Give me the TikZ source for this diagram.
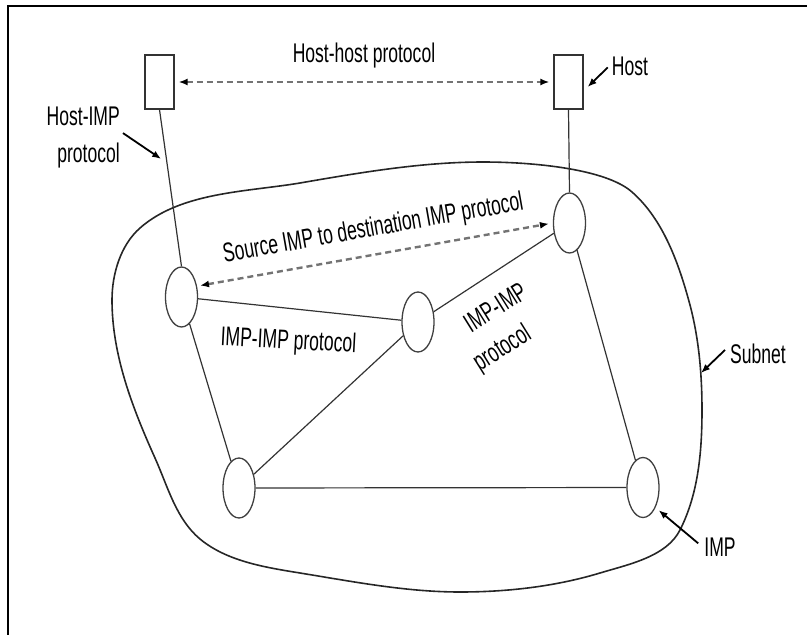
\documentclass[tikz,border=0pt]{standalone}
\usepackage{fontspec}
\usepackage{graphicx}
\setmainfont{Liberation Sans}
\usetikzlibrary{arrows.meta,shapes.geometric,calc}
% narrow lettering: horizontally squeezed Liberation Sans
\newcommand{\condensed}[1]{\scalebox{0.65}[1]{#1}}
\begin{document}
\begin{tikzpicture}[x=1pt,y=-1pt,
  hostbox/.style={draw=black!80, line width=1.2pt, fill=white,
    minimum width=29pt, minimum height=54pt, inner sep=0pt},
  imp/.style={ellipse, draw=black!75, line width=1.3pt, fill=white,
    minimum width=32pt, minimum height=60pt, inner sep=0pt},
  link/.style={draw=black!80, line width=1.2pt},
  proto/.style={draw=black!55, line width=2.4pt, dash pattern=on 6pt off 4pt,
    {Latex[length=9pt,width=7pt,color=black]}-{Latex[length=9pt,width=7pt,color=black]}},
  callout/.style={draw=black, line width=1.8pt, -{Latex[length=9pt,width=7pt]}},
  lbl/.style={font=\fontsize{27}{37}\selectfont, inner sep=0pt, text=black},
  subnet/.style={draw=black!85, line width=1.6pt}
]
\useasboundingbox (0,0) rectangle (807,635);

% frame
\draw[line width=2.8pt] (8,635) -- (8,6) -- (807,6);

% subnet outline
\draw[subnet] (140,228) .. controls (181,192) and (246,192) .. (300,183)
  .. controls (360,172.6) and (422,162) .. (483,162)
  .. controls (534,162) and (606,169) .. (632,192)
  .. controls (663.5,219.7) and (679,264) .. (690,305)
  .. controls (699,339) and (702,375) .. (702,410)
  .. controls (702,451) and (698.5,493.5) .. (680,530)
  .. controls (666.5,556.7) and (628.8,564.3) .. (600,573)
  .. controls (555,586.6) and (507,592) .. (460,592)
  .. controls (406,592) and (353,581.6) .. (300,573)
  .. controls (265.5,567.4) and (227,561.4) .. (200,539)
  .. controls (176,519) and (167.7,486.2) .. (155,458)
  .. controls (132.5,408) and (112,355) .. (112,300)
  .. controls (112,274) and (120.5,245.2) .. (140,228) -- cycle;

% hosts
\node[hostbox] (hL) at (159.5,82) {};
\node[hostbox] (hR) at (568.5,82) {};

% IMPs
\node[imp] (a) at (181.5,297) {};
\node[imp] (b) at (418,322) {};
\node[imp] (c) at (569.5,223) {};
\node[imp] (d) at (239,488) {};
\node[imp] (f) at (643,487.5) {};

% host-IMP lines
\draw[link] (hL.south) -- (a.north);
\draw[link] (hR.south) -- (c.north);

% IMP-IMP lines
\draw[link] (a) -- (b);
\draw[link] (b) -- (c);
\draw[link] (a) -- (d);
\draw[link] (b) -- (d);
\draw[link] (c) -- (f);
\draw[link] (d) -- (f);

% protocol arrows
\draw[proto, shorten <=4pt, shorten >=4pt] (hL.east) -- (hR.west);
\draw[proto, shorten <=3pt, shorten >=4pt] (a.35) -- (c.west);

% labels
\node[lbl, anchor=base] (hh) at (364,62) {\condensed{Host-host protocol}};
\node[lbl, anchor=base] (hostlbl) at (630,75) {\condensed{Host}};
\node[lbl, anchor=base east] (himp) at (120,125)
  {\condensed{\begin{tabular}[t]{@{}r@{}}Host-IMP\\protocol\end{tabular}}};
\node[lbl, anchor=base, rotate=10] (src) at (374.5,236)
  {\condensed{Source IMP to destination IMP protocol}};
\node[lbl, anchor=base, rotate=-3] (ipL) at (288,349) {\condensed{IMP-IMP protocol}};
\node[lbl, anchor=base west, rotate=32] (ipR) at (460,340)
  {\condensed{\begin{tabular}[t]{@{}l@{}}\hspace*{20pt}IMP-IMP\\protocol\end{tabular}}};
\node[lbl, anchor=base] (sublbl) at (758,363) {\condensed{Subnet}};
\node[lbl, anchor=base] (implbl) at (720,556) {\condensed{IMP}};

% callouts
\coordinate (hlTip) at ($(hL.south)!0.34!(a.north)$);
\coordinate (subnetPt) at (701,373);
\draw[callout] ($(hostlbl.west)+(-4,1.6)$) -- ($(hR.east)+(4,5)$);
\draw[callout, shorten >=7pt] ($(himp.east)+(3,-3)$) -- (hlTip);
\draw[callout] ($(sublbl.west)+(-5,-3.4)$) -- (subnetPt);
\draw[callout, shorten >=4pt] ($(implbl.west)+(-6,-3.4)$) -- (f.-58);
\end{tikzpicture}
\end{document}
